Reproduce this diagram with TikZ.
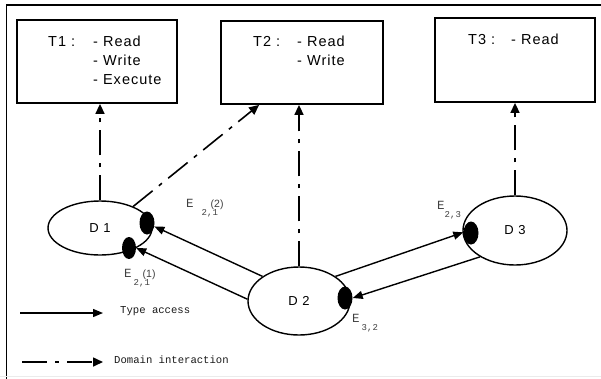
\documentclass[tikz,border=0pt]{standalone}
\usepackage{fontspec}
\setmainfont{Liberation Sans}
\newfontfamily\boxfont{Liberation Sans}[LetterSpace=7]
\newfontfamily\courfont{Liberation Mono}
\usetikzlibrary{shapes.geometric,arrows.meta}

\newcommand{\elab}[3][2pt]{{\courfont\fontsize{12.5}{12}\selectfont E}\hspace{#1}%
  \rlap{\raisebox{-8pt}{\courfont\fontsize{9}{9}\selectfont #2}}\hspace{9pt}%
  {\fontsize{10.5}{10}\selectfont #3}}

\tikzset{
  tbox/.style={draw, line width=1.8pt, inner sep=0pt, minimum height=83pt},
  dom/.style={draw, ellipse, line width=1.4pt, inner sep=0pt,
    font=\boxfont\fontsize{13}{13}\selectfont},
  blob/.style={fill, ellipse, inner sep=0pt, minimum width=15pt, minimum height=23pt},
  access/.style={line width=1.4pt, -{Triangle[length=10pt,width=8pt]}},
  inter/.style={line width=1.6pt, dash pattern=on 25pt off 8pt on 4pt off 8pt,
    -{Triangle[length=10pt,width=9pt]}},
  elabel/.style={anchor=base west, inner sep=0pt, text=black!75},
  legend/.style={anchor=base west, inner sep=0pt, text=black!90,
    font=\courfont\fontsize{10.6}{12}\selectfont}
}

\begin{document}
\begin{tikzpicture}[x=1pt,y=-1pt]
\useasboundingbox (0,0) rectangle (601,378);
\draw[line width=1.8pt] (6.5,385) -- (6.5,5) -- (610,5);
\draw[black!8, line width=0.8pt] (0,376.5) -- (601,376.5);

% types
\node[tbox, minimum width=160pt] (t1) at (97,61.5) {};
\node[tbox, minimum width=162pt] (t2) at (302,62.5) {};
\node[tbox, minimum width=160pt, minimum height=84pt] (t3) at (515,60) {};

\node[inner sep=0pt, anchor=base west, font=\boxfont\fontsize{14.5}{18.7}\selectfont]
  (t1txt) at (48,46.7) {%
\begin{tabular}[t]{@{}p{45pt}@{}l@{}}
  T1 : & - Read\\
       & - Write\\
       & - Execute
\end{tabular}};
\node[inner sep=0pt, anchor=base west, font=\boxfont\fontsize{14.5}{18.7}\selectfont]
  (t2txt) at (253,46.7) {%
\begin{tabular}[t]{@{}p{44pt}@{}l@{}}
  T2 : & - Read\\
       & - Write
\end{tabular}};
\node[inner sep=0pt, anchor=base west, font=\boxfont\fontsize{14.5}{18.7}\selectfont]
  (t3txt) at (468,44) {%
\begin{tabular}[t]{@{}p{43pt}@{}l@{}}
  T3 : & - Read
\end{tabular}};

% domains
\node[dom, minimum width=104pt, minimum height=54pt] (d1) at (100,228) {D 1};
\node[dom, minimum width=102pt, minimum height=68pt] (d2) at (299,301) {D 2};
\node[dom, minimum width=104pt, minimum height=69pt] (d3) at (515,230.5) {D 3};

\node[blob] (e21b) at (147,223) {};
\node[blob, minimum width=14pt, minimum height=22pt] (e21a) at (129,248) {};
\node[blob] (e23) at (471,233) {};
\node[blob] (e32) at (345,298) {};

\draw[access] (d2.146) -- (e21b.-25);
\draw[access] (d2.178) -- (e21a.east);
\draw[access] (d2.34) -- (e23.175);
\draw[access] (d3.217) -- (e32.east);

\draw[inter] (d1.north) -- (d1.north |- t1.south);
\draw[inter] (d1.33) -- ([xshift=39pt]t2.south west);
\draw[inter] (d2.north) -- (d2.north |- t2.south);
\draw[inter] (d3.north) -- (d3.north |- t3.south);

\node[elabel] (l21b) at (186,207) {\elab[8pt]{2,1}{(2)}};
\node[elabel] (l21a) at (124,277) {\elab{2,1}{(1)}};
\node[elabel] (l23) at (437,209) {\elab[0pt]{2,3}{}};
\node[elabel] (l32) at (352,322) {\elab{3,2}{}};

% legend
\coordinate (ta1) at (20,313);
\coordinate (ta2) at (103,313);
\coordinate (di1) at (22,362);
\coordinate (di2) at (103,362);
\draw[access] (ta1) -- (ta2);
\draw[inter] (di1) -- (di2);
\node[legend] (tatxt) at (120,313) {Type access};
\node[legend] (ditxt) at (114,363) {Domain interaction};
\end{tikzpicture}
\end{document}
